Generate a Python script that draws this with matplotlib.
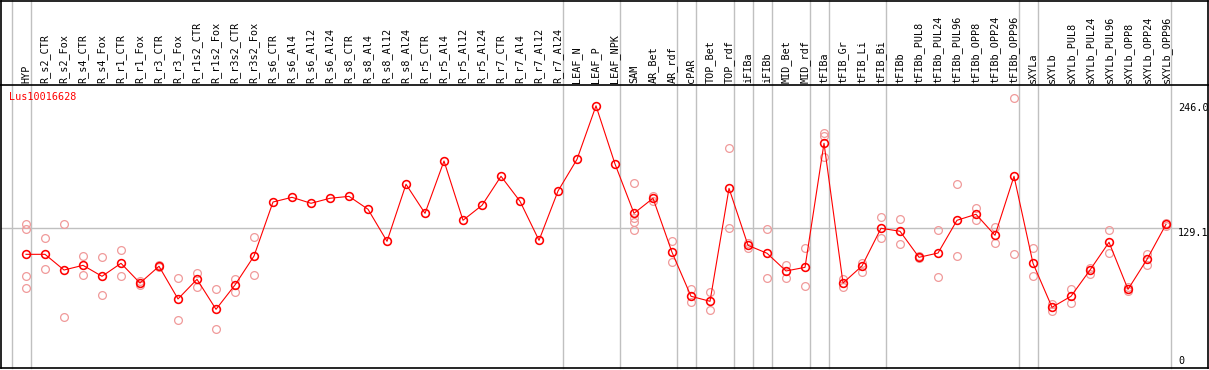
import matplotlib
matplotlib.use("Agg")
import matplotlib.pyplot as plt
import matplotlib.transforms as mtrans

# categorias (muestras)
samples = ["HYP", "R_s2_CTR", "R_s2_Fox", "R_s4_CTR", "R_s4_Fox", "R_r1_CTR", "R_r1_Fox",
           "R_r3_CTR", "R_r3_Fox", "R_r1s2_CTR", "R_r1s2_Fox", "R_r3s2_CTR", "R_r3s2_Fox",
           "R_s6_CTR", "R_s6_Al4", "R_s6_Al12", "R_s6_Al24", "R_s8_CTR", "R_s8_Al4", "R_s8_Al12",
           "R_s8_Al24", "R_r5_CTR", "R_r5_Al4", "R_r5_Al12", "R_r5_Al24", "R_r7_CTR", "R_r7_Al4",
           "R_r7_Al12", "R_r7_Al24", "LEAF_N", "LEAF_P", "LEAF_NPK", "SAM", "AR_Bet", "AR_rdf",
           "cPAR", "TOP_Bet", "TOP_rdf", "iFIBa", "iFIBb", "MID_Bet", "MID_rdf", "tFIBa",
           "tFIB_Gr", "tFIB_Li", "tFIB_Bi", "tFIBb", "tFIBb_PUL8", "tFIBb_PUL24", "tFIBb_PUL96",
           "tFIBb_OPP8", "tFIBb_OPP24", "tFIBb_OPP96", "sXYLa", "sXYLb", "sXYLb_PUL8",
           "sXYLb_PUL24", "sXYLb_PUL96", "sXYLb_OPP8", "sXYLb_OPP24", "sXYLb_OPP96"]

# valor medio por muestra
means = [104.7, 104.7, 90.0, 94.4, 84.1, 96.3, 77.8, 93.5, 62.9, 81.3, 53.2, 76.0, 103.1,
         153.7, 158.1, 152.5, 157.2, 159.0, 146.9, 116.9, 170.3, 143.1, 192.1, 136.6, 150.6,
         177.8, 154.4, 117.8, 164.0, 193.7, 243.8, 189.3, 143.1, 157.2, 106.6, 65.4, 60.7,
         166.5, 113.1, 105.7, 89.1, 92.5, 208.7, 77.8, 93.8, 129.1, 126.3, 101.9, 105.9,
         136.6, 142.2, 122.5, 177.8, 96.3, 55.1, 65.4, 90.0, 116.0, 71.9, 100.0, 132.8]

# replicas (vacio = sin replicas)
replicates = [[132.8, 128.1, 84.1, 72.9], [119.7, 90.7], [132.8, 45.7], [103.1, 85.0],
              [101.9, 66.3], [108.5, 84.1], [80.0, 75.7], [94.5, 92.5], [82.2, 43.5],
              [86.9, 74.4], [71.9, 34.5], [81.6, 69.4], [120.6, 85.0],
              [], [], [], [], [], [], [], [], [], [], [], [], [], [], [], [], [], [], [],
              [171.2, 138.4, 135.3, 127.5], [159.5, 155.0], [117.2, 97.2], [72.2, 59.8],
              [69.4, 52.5], [204.0, 129.4], [115.0, 111.0], [128.1, 82.2], [94.7, 82.8],
              [110.3, 74.7], [218.1, 215.8, 196.1], [81.9, 73.8], [96.9, 88.4],
              [139.4, 120.3], [137.5, 114.4], [103.0, 101.0], [127.2, 83.2], [170.3, 102.8],
              [148.1, 136.6], [130.0, 115.0], [250.8, 104.7], [110.3, 84.1], [58.2, 51.9],
              [71.9, 59.4], [92.2, 86.6], [127.2, 105.7], [74.0, 70.0], [105.3, 94.7],
              [134.0, 131.5]]

# ultima muestra de cada grupo (separadores)
group_ends = [-1, 0, 28, 31, 34, 35, 37, 38, 39, 41, 42, 45, 52, 53, 60]
# etiquetas del eje y
y_ticks = [246.0, 129.1, 0]
gene = "Lus10016628"

W, H = 1209, 370
fig = plt.figure(figsize=(W / 100, H / 100), dpi=100)
# area de la grafica: x 1..1208 px, y 85..368 px (desde arriba)
ax = fig.add_axes([1 / W, (H - 368) / H, 1207 / W, 283 / H])
ax.set_xlim(-1.316, 62.21)
ax.set_ylim(-1.78, 263.3)
ax.set_yticks([])
for s in ax.spines.values():
    s.set_color("black")
    s.set_linewidth(1.2)

mono = "DejaVu Sans Mono"
ext = 368 / 283  # hasta el borde superior de la figura

# separadores verticales
for g in group_ends:
    ax.axvline(g + 0.25, ymin=0, ymax=ext, color="#c0c0c0", lw=1.0, clip_on=False, zorder=0)

# linea horizontal en 129.1
ax.plot([-1.316, 60.8], [y_ticks[1], y_ticks[1]], color="#c0c0c0", lw=1.0, zorder=0)

# marco exterior de la zona de etiquetas
top = ext - 0.6 / 283
ax.plot([0, 0], [1, top], color="black", lw=1.2, transform=ax.transAxes, clip_on=False)
ax.plot([1, 1], [1, top], color="black", lw=1.2, transform=ax.transAxes, clip_on=False)
ax.plot([0, 1], [top, top], color="black", lw=1.2, transform=ax.transAxes, clip_on=False)

# replicas
for i, reps in enumerate(replicates):
    if reps:
        ax.plot([i] * len(reps), reps, linestyle="none", marker="o", ms=5.6,
                mfc="none", mec="#f09a9a", mew=0.9, zorder=2)

# medias
x = list(range(len(samples)))
ax.plot(x, means, color="red", lw=0.8, marker="o", ms=5.6, mfc="none", mec="red",
        mew=1.15, zorder=3)

# etiquetas de las muestras arriba
ax.xaxis.tick_top()
ax.set_xticks(x)
ax.set_xticklabels(samples, rotation=90, fontsize=7.3, family=mono)
ax.tick_params(axis="x", length=0, pad=1.5)

ax.text(8 / 1207, 0.9576, gene, transform=ax.transAxes, color="red", fontsize=7.3,
        family=mono, va="center", ha="left")

tr = mtrans.blended_transform_factory(ax.transAxes, ax.transData)
for v in y_ticks:
    lab = "0" if v == 0 else "%.1f" % v
    ax.text(1177 / 1207, v, lab, transform=tr, fontsize=7.3, family=mono,
            va="bottom" if v == 0 else "top", ha="left")

fig.savefig("out.png", dpi=100)
